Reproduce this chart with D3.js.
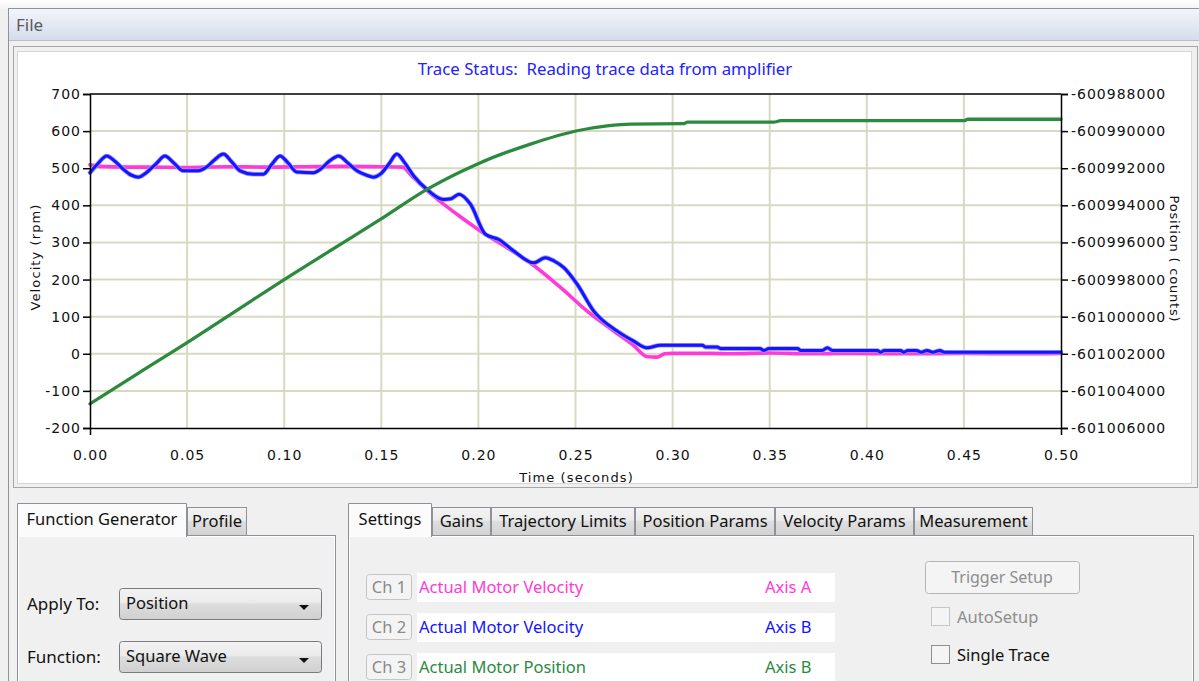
<!DOCTYPE html>
<html>
<head>
<meta charset="utf-8">
<script src="https://cdn.jsdelivr.net/npm/d3@7"></script>
<style>
  html, body { margin: 0; padding: 0; background: #f0f0f0; overflow: hidden; }
  svg { display: block; }
  .ui { font-family: "Noto Sans", "Open Sans", sans-serif; }
  .axis text { font-family: "DejaVu Sans", Verdana, sans-serif; font-size: 14px; fill: #111; letter-spacing: 1px; }
  .axis path, .axis line { stroke: #000; stroke-width: 1.5; }
</style>
</head>
<body>
<div id="app"></div>
<script>
// ---- data ----
const timeTicks = [0, 0.05, 0.10, 0.15, 0.20, 0.25, 0.30, 0.35, 0.40, 0.45, 0.50];
const velTicks = [-200, -100, 0, 100, 200, 300, 400, 500, 600, 700];
const posTicks = [-601006000, -601004000, -601002000, -601000000, -600998000,
  -600996000, -600994000, -600992000, -600990000, -600988000];

// Ch 1: Actual Motor Velocity, Axis A (rpm)
const ch1Time = [0, 0.005, 0.02, 0.03, 0.05, 0.07, 0.09, 0.11, 0.13, 0.15, 0.161, 0.1655, 0.1735, 0.19,
  0.201, 0.215, 0.2285, 0.242, 0.256, 0.27, 0.28, 0.287, 0.292, 0.296, 0.30, 0.32, 0.33, 0.35, 0.37,
  0.39, 0.42, 0.45, 0.48, 0.50];
const ch1Vel = [509, 505, 503, 503, 502, 504, 503, 504, 505, 504, 503, 480, 440, 372,
  331, 285, 238, 180, 115, 60, 22, -8, -9, 0, 1, 1, 0, 2, 0,
  1, 0, 1, 0, 1];

// Ch 2: Actual Motor Velocity, Axis B (rpm)
const ch2Time = [0, 0.004, 0.0086, 0.013, 0.0172, 0.021, 0.0249, 0.029, 0.034, 0.0386, 0.043, 0.048,
  0.0558, 0.060, 0.064, 0.0687, 0.073, 0.0773, 0.0842, 0.0893, 0.0935, 0.0979, 0.102, 0.1065, 0.1151,
  0.1186, 0.123, 0.128, 0.133, 0.1375, 0.142, 0.146, 0.1495, 0.154, 0.158, 0.162, 0.1667, 0.1735,
  0.182, 0.186, 0.19, 0.1959, 0.2036, 0.2105, 0.2182, 0.2285, 0.2345, 0.239, 0.244, 0.2509, 0.2594,
  0.2715, 0.28, 0.2869, 0.2938, 0.3153, 0.317, 0.323, 0.3247, 0.345, 0.347, 0.3497, 0.3643, 0.366,
  0.377, 0.3797, 0.3823, 0.4055, 0.407, 0.409, 0.4175, 0.419, 0.4212, 0.4256, 0.428, 0.431, 0.434,
  0.4376, 0.44, 0.47, 0.50];
const ch2Vel = [488, 512, 533, 518, 497, 482, 476, 488, 512, 533, 515, 493,
  493, 503, 522, 538, 517, 493, 484, 484, 510, 533, 514, 490, 488,
  497, 518, 533, 513, 493, 482, 476, 484, 512, 538, 515, 479, 443,
  416, 418, 430, 403, 322, 308, 277, 245, 259, 250, 232, 187, 115,
  61, 34, 16, 23, 23, 18, 18, 14, 14, 9, 14, 14, 9,
  9, 16, 9, 9, 4, 9, 9, 4, 9, 9, 4, 9, 4,
  9, 4, 4, 4];

// Ch 3: Actual Motor Position, Axis B (counts)
const ch3Time = [0, 0.025, 0.05, 0.075, 0.10, 0.125, 0.1495, 0.1735, 0.1993, 0.2268, 0.2509, 0.2663,
  0.2784, 0.3058, 0.3076, 0.352, 0.3557, 0.45, 0.452, 0.50];
const ch3Pos = [-601004700, -601003040, -601001400, -600999700, -600998000, -600996360, -600994760,
  -600993140, -600991780, -600990700, -600989980, -600989720, -600989620, -600989600, -600989520,
  -600989520, -600989440, -600989440, -600989360, -600989360];

// ---- UI text ----
const leftTabs = ["Function Generator", "Profile"];
const rightTabs = ["Settings", "Gains", "Trajectory Limits", "Position Params", "Velocity Params", "Measurement"];
const channels = ["Ch 1", "Ch 2", "Ch 3"];
const channelNames = ["Actual Motor Velocity", "Actual Motor Velocity", "Actual Motor Position"];
const channelAxes = ["Axis A", "Axis B", "Axis B"];

const W = 1199, H = 681;
const plot = { left: 90, right: 1061, top: 94, bottom: 428 };
const chColors = ["#ff3ad8", "#1414ff", "#2b8a3e"];
const uiSize = 16.5;

const svg = d3.select("#app").append("svg")
  .attr("width", W).attr("height", H)
  .attr("viewBox", [0, 0, W, H]);

const defs = svg.append("defs");
function grad(id, stops) {
  const g = defs.append("linearGradient").attr("id", id)
    .attr("x1", 0).attr("y1", 0).attr("x2", 0).attr("y2", 1);
  stops.forEach(([o, c]) => g.append("stop").attr("offset", o).attr("stop-color", c));
}
grad("menuGrad", [[0, "#f3f5fb"], [1, "#d5dcec"]]);
grad("tabGrad", [[0, "#f4f4f4"], [0.45, "#ebebeb"], [0.5, "#dedede"], [1, "#d2d2d2"]]);
grad("comboGrad", [[0, "#f3f3f3"], [0.45, "#ebebeb"], [0.5, "#dddddd"], [1, "#d0d0d0"]]);
grad("topGrad", [[0, "#ffffff"], [1, "#f4f4f4"]]);

// window background + menu bar
svg.append("rect").attr("width", W).attr("height", H).attr("fill", "#f0f0f0");
svg.append("rect").attr("width", W).attr("height", 9).attr("fill", "url(#topGrad)");
svg.append("rect").attr("x", 9).attr("y", 9).attr("width", W - 9).attr("height", 31).attr("fill", "url(#menuGrad)");
svg.append("line").attr("x1", 8).attr("x2", W).attr("y1", 8.5).attr("y2", 8.5).attr("stroke", "#8f9296");
svg.append("line").attr("x1", 8.5).attr("x2", 8.5).attr("y1", 8).attr("y2", H).attr("stroke", "#8f9296");
svg.append("line").attr("x1", 9).attr("x2", W).attr("y1", 40.5).attr("y2", 40.5).attr("stroke", "#b9bec8");
svg.append("text").attr("class", "ui").attr("x", 16).attr("y", 25).attr("dy", "0.35em")
  .attr("font-size", 17).attr("fill", "#5a5a5a").text("File");

// chart panel
svg.append("rect").attr("x", 13.5).attr("y", 46.5).attr("width", 1184).attr("height", 441)
  .attr("fill", "#f0f0f0").attr("stroke", "#a6a6a6");
svg.append("rect").attr("x", 17.5).attr("y", 51.5).attr("width", 1174).attr("height", 432)
  .attr("fill", "#ffffff").attr("stroke", "#d6d6d6");

svg.append("text").attr("class", "ui")
  .attr("x", 605).attr("y", 69).attr("dy", "0.35em")
  .attr("text-anchor", "middle").attr("font-size", 16.8).attr("fill", "#2222ff")
  .style("white-space", "pre")
  .text("Trace Status:  Reading trace data from amplifier");

// scales
const x = d3.scaleLinear().domain([0, 0.5]).range([plot.left, plot.right]);
const yVel = d3.scaleLinear().domain([-200, 700]).range([plot.bottom, plot.top]);
const yPos = d3.scaleLinear().domain([-601006000, -600988000]).range([plot.bottom, plot.top]);

// grid
const grid = svg.append("g").attr("stroke", "#d9d9c2").attr("stroke-width", 2);
grid.selectAll(".gx").data(timeTicks.slice(1, -1)).join("line")
  .attr("x1", d => x(d)).attr("x2", d => x(d))
  .attr("y1", plot.top).attr("y2", plot.bottom);
grid.selectAll(".gy").data(velTicks.slice(1, -1)).join("line")
  .attr("x1", plot.left).attr("x2", plot.right)
  .attr("y1", d => yVel(d)).attr("y2", d => yVel(d));

// traces
const velLine = d3.line().curve(d3.curveMonotoneX).x(d => x(d[0])).y(d => yVel(d[1]));
const posLine = d3.line().curve(d3.curveMonotoneX).x(d => x(d[0])).y(d => yPos(d[1]));
const traces = svg.append("g").attr("fill", "none")
  .attr("stroke-linejoin", "round").attr("stroke-linecap", "round");

traces.append("path").attr("d", velLine(d3.zip(ch1Time, ch1Vel)))
  .attr("stroke", chColors[0]).attr("stroke-width", 3.6);
traces.append("path").attr("d", velLine(d3.zip(ch2Time, ch2Vel)))
  .attr("stroke", "#9a9aff").attr("stroke-width", 4.6);
traces.append("path").attr("d", velLine(d3.zip(ch2Time, ch2Vel)))
  .attr("stroke", chColors[1]).attr("stroke-width", 3);
traces.append("path").attr("d", posLine(d3.zip(ch3Time, ch3Pos)))
  .attr("stroke", chColors[2]).attr("stroke-width", 3.3);

// axes
svg.append("g").attr("class", "axis")
  .attr("transform", `translate(${plot.left},0)`)
  .call(d3.axisLeft(yVel).tickValues(velTicks).tickSize(7).tickPadding(2).tickFormat(d => String(d)));
svg.append("g").attr("class", "axis")
  .attr("transform", `translate(${plot.right},0)`)
  .call(d3.axisRight(yPos).tickValues(posTicks).tickSize(7).tickPadding(3).tickFormat(d => String(d)));
svg.append("g").attr("class", "axis")
  .attr("transform", `translate(0,${plot.bottom})`)
  .call(d3.axisBottom(x).tickValues(timeTicks).tickSizeInner(0).tickSizeOuter(7).tickPadding(22)
    .tickFormat(d3.format(".2f")));
svg.append("line").attr("x1", plot.left).attr("x2", plot.right)
  .attr("y1", plot.top).attr("y2", plot.top).attr("stroke", "#000").attr("stroke-width", 1.5);

// axis titles
const titleFont = "\"DejaVu Sans\", Verdana, sans-serif";
svg.append("text")
  .attr("transform", `translate(35,${(plot.top + plot.bottom) / 2 - 4}) rotate(-90)`)
  .attr("text-anchor", "middle").attr("dy", "0.35em")
  .style("font-family", titleFont).attr("font-size", 13).attr("letter-spacing", 1.1).attr("fill", "#111")
  .text("Velocity (rpm)");
svg.append("text")
  .attr("transform", `translate(1175,${(plot.top + plot.bottom) / 2 - 2}) rotate(90)`)
  .attr("text-anchor", "middle").attr("dy", "0.35em")
  .style("font-family", titleFont).attr("font-size", 13).attr("letter-spacing", 0.8).attr("fill", "#111")
  .style("white-space", "pre")
  .text("Position ( counts)");
svg.append("text")
  .attr("x", (plot.left + plot.right) / 2 + 1).attr("y", 477).attr("dy", "0.35em")
  .attr("text-anchor", "middle")
  .style("font-family", titleFont).attr("font-size", 13).attr("letter-spacing", 1.1).attr("fill", "#111")
  .text("Time (seconds)");

// ---- bottom control panels ----
function tabStrip(names, edges, panelRight) {
  const g = svg.append("g").attr("class", "ui");
  // content pane
  g.append("rect").attr("x", edges[0] + 0.5).attr("y", 535.5)
    .attr("width", panelRight - edges[0]).attr("height", 160)
    .attr("fill", "#f0f0f0").attr("stroke", "#8e9199");
  g.append("rect").attr("x", edges[0] + 1.5).attr("y", 536.5)
    .attr("width", panelRight - edges[0] - 2).attr("height", 160)
    .attr("fill", "none").attr("stroke", "#ffffff");
  names.forEach((name, i) => {
    const x0 = edges[i], x1 = edges[i + 1], sel = i === 0;
    const top = sel ? 503 : 507;
    if (sel) {
      g.append("rect").attr("x", x0 + 0.5).attr("y", top + 0.5).attr("width", x1 - x0 - 1).attr("height", 536 - top)
        .attr("fill", "#fbfbfb");
      g.append("path").attr("d", `M${x0 + 0.5},537 V${top + 0.5} H${x1 - 0.5} V537`)
        .attr("fill", "none").attr("stroke", "#8e9199");
    } else {
      g.append("rect").attr("x", x0 + 0.5).attr("y", top + 0.5).attr("width", x1 - x0 - 1).attr("height", 535 - top)
        .attr("fill", "url(#tabGrad)").attr("stroke", "#8e9199");
    }
    g.append("text").attr("x", (x0 + x1) / 2).attr("y", sel ? 519 : 521).attr("dy", "0.35em")
      .attr("text-anchor", "middle").attr("font-size", uiSize).attr("fill", "#111").text(name);
  });
}
tabStrip(leftTabs, [17, 187, 247], 335);
tabStrip(rightTabs, [348, 432, 491, 635, 775, 914, 1033], 1193);

// function generator fields
const fg = svg.append("g").attr("class", "ui");
[["Apply To:", "Position", 588], ["Function:", "Square Wave", 641]].forEach(([label, value, top]) => {
  fg.append("text").attr("x", 27).attr("y", top + 16).attr("dy", "0.35em")
    .attr("font-size", 17).attr("fill", "#111").text(label);
  fg.append("rect").attr("x", 119.5).attr("y", top + 0.5).attr("width", 202).attr("height", 31).attr("rx", 3)
    .attr("fill", "url(#comboGrad)").attr("stroke", "#7a7a7a");
  fg.append("text").attr("x", 126).attr("y", top + 15).attr("dy", "0.35em")
    .attr("font-size", uiSize).attr("fill", "#111").text(value);
  fg.append("path").attr("d", `M299,${top + 17} h10 l-5,5 z`).attr("fill", "#111");
});

// channel rows
const rows = svg.append("g").attr("class", "ui");
channels.forEach((ch, i) => {
  const cy = 587 + i * 40;
  rows.append("rect").attr("x", 366.5).attr("y", cy - 12.5).attr("width", 45).attr("height", 25).attr("rx", 3)
    .attr("fill", "#f4f4f4").attr("stroke", "#c4c4c4");
  rows.append("text").attr("x", 389).attr("y", cy).attr("dy", "0.35em").attr("text-anchor", "middle")
    .attr("font-size", uiSize).attr("fill", "#8a8a8a").text(ch);
  rows.append("rect").attr("x", 417).attr("y", cy - 14).attr("width", 418).attr("height", 29).attr("fill", "#ffffff");
  rows.append("text").attr("x", 419).attr("y", cy).attr("dy", "0.35em")
    .attr("font-size", uiSize).attr("fill", chColors[i]).text(channelNames[i]);
  rows.append("text").attr("x", 765).attr("y", cy).attr("dy", "0.35em")
    .attr("font-size", uiSize).attr("fill", chColors[i]).text(channelAxes[i]);
});

// trigger controls
const trig = svg.append("g").attr("class", "ui");
trig.append("rect").attr("x", 925.5).attr("y", 561.5).attr("width", 154).attr("height", 32).attr("rx", 3)
  .attr("fill", "#f4f4f4").attr("stroke", "#b5b5b5");
trig.append("text").attr("x", 1002).attr("y", 577).attr("dy", "0.35em").attr("text-anchor", "middle")
  .attr("font-size", 16).attr("fill", "#8d8d8d").text("Trigger Setup");
[["AutoSetup", 617, "#8d8d8d", "#c6c6c6"], ["Single Trace", 655, "#111", "#8e8f8f"]].forEach(([label, cy, col, box]) => {
  trig.append("rect").attr("x", 931.5).attr("y", cy - 9.5).attr("width", 18).attr("height", 18)
    .attr("fill", "#f4f4f4").attr("stroke", box);
  trig.append("text").attr("x", 957).attr("y", cy).attr("dy", "0.35em")
    .attr("font-size", uiSize).attr("fill", col).text(label);
});
</script>
</body>
</html>
